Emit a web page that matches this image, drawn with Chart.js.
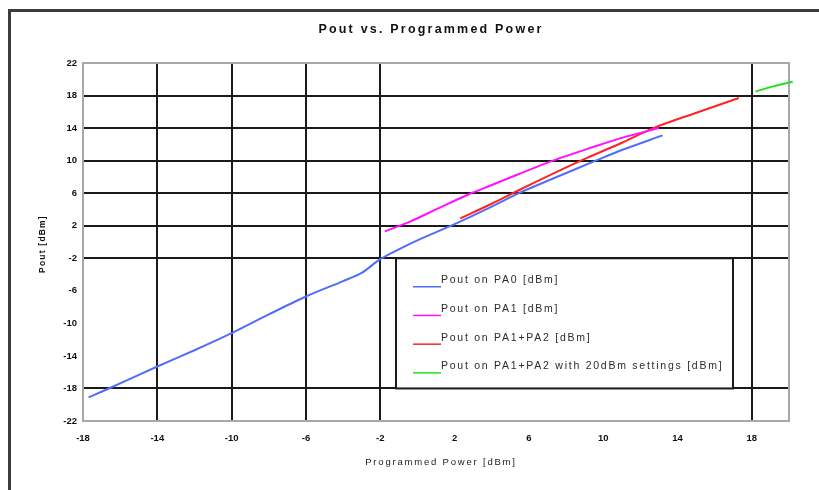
<!DOCTYPE html>
<html><head><meta charset="utf-8">
<script src="https://cdn.jsdelivr.net/npm/chart.js@4"></script>
<style>html,body{margin:0;padding:0;background:#fff;overflow:hidden}#wrap{width:819px;height:490px;position:relative}</style>
</head><body><div id="wrap"><canvas id="c" width="819" height="490"></canvas></div>
<script>
const chartTitle = 'Pout vs. Programmed Power';
const xAxisTitle = 'Programmed Power [dBm]';
const yAxisTitle = 'Pout [dBm]';
const xTicks = [-18, -14, -10, -6, -2, 2, 6, 10, 14, 18];
const yTicks = [-22, -18, -14, -10, -6, -2, 2, 6, 10, 14, 18, 22];
const xGridShown = [-14, -10, -6, -2, 18];
const yGridShown = [-18, -2, 2, 6, 10, 14, 18];
const seriesNames = ['Pout on PA0 [dBm]', 'Pout on PA1 [dBm]', 'Pout on PA1+PA2 [dBm]', 'Pout on PA1+PA2 with 20dBm settings [dBm]'];
const pa0X = [-17.7, -16.7, -14, -12, -10, -8, -6, -4, -3, -2, -1, 0, 2, 4, 5.4, 7.3, 9.5, 11, 13.2];
const pa0Y = [-19.1, -18.1, -15.3, -13.3, -11.2, -8.9, -6.7, -4.8, -3.8, -2.1, -0.9, 0.2, 2.2, 4.35, 5.95, 7.8, 9.9, 11.3, 13.1];
const pa1X = [-1.75, -0.4, 1, 2.8, 4, 5.4, 7.3, 9.5, 11, 13.0];
const pa1Y = [1.3, 2.5, 4.0, 5.9, 7.0, 8.3, 10.0, 11.7, 12.8, 14.0];
const pa12X = [2.3, 4, 5.4, 7.3, 9.1, 11, 12.7, 14.9, 17.3];
const pa12Y = [2.9, 4.7, 6.3, 8.4, 10.3, 12.2, 14.0, 15.8, 17.7];
const pa20X = [18.2, 19.1, 20.2];
const pa20Y = [18.5, 19.1, 19.7];
const seriesColors = ['#4f6ff8', '#ff10ff', '#ff2424', '#22e022'];

const FONT = "'Liberation Sans', Arial, sans-serif";
const pts = (xs, ys) => xs.map((x, i) => ({x: x, y: ys[i]}));
const seriesData = [pts(pa0X, pa0Y), pts(pa1X, pa1Y), pts(pa12X, pa12Y), pts(pa20X, pa20Y)];

const deco = {
  id: 'deco',
  beforeDraw(chart) {
    const c = chart.ctx;
    c.save(); c.fillStyle = '#fff'; c.fillRect(0, 0, chart.width, chart.height); c.restore();
  },
  beforeDatasetsDraw(chart) {
    const c = chart.ctx, a = chart.chartArea;
    c.save();
    c.strokeStyle = '#a8a8a8'; c.lineWidth = 2;
    c.beginPath();
    c.moveTo(a.left, a.top); c.lineTo(a.right, a.top); c.lineTo(a.right, a.bottom);
    c.stroke();
    c.restore();
  },
  afterDatasetsDraw(chart) {
    const c = chart.ctx, ys = chart.scales.y;
    const bx = 396, bxr = 733;
    const by = ys.getPixelForValue(-2), byb = ys.getPixelForValue(-18);
    c.save();
    c.fillStyle = '#fff';
    c.fillRect(bx, by, bxr - bx, byb - by);
    c.strokeStyle = '#1a1a1a'; c.lineWidth = 2;
    c.strokeRect(bx, by, bxr - bx, byb - by);
    c.font = '10.5px ' + FONT;
    if ('letterSpacing' in c) c.letterSpacing = '1.75px';
    c.textBaseline = 'middle'; c.textAlign = 'left';
    seriesNames.forEach((name, i) => {
      const ly = by + 28.5 + i * 28.7;
      c.strokeStyle = seriesColors[i]; c.lineWidth = 1.5;
      c.beginPath(); c.moveTo(413, ly); c.lineTo(441, ly); c.stroke();
      c.fillStyle = '#2a2a2a';
      c.fillText(name, 441, ly - 6.5);
    });
    c.restore();
  },
  afterDraw(chart) {
    const c = chart.ctx;
    c.save();
    c.strokeStyle = '#3c3c3c'; c.lineWidth = 3;
    c.strokeRect(9.5, 10.5, 900, 600);
    c.fillStyle = '#111';
    c.textAlign = 'center'; c.textBaseline = 'middle';
    c.font = 'bold 12.5px ' + FONT;
    if ('letterSpacing' in c) c.letterSpacing = '2.2px';
    c.fillText(chartTitle, 431, 30);
    c.font = '9.5px ' + FONT;
    if ('letterSpacing' in c) c.letterSpacing = '1.8px';
    c.fillStyle = '#1a1a1a';
    c.fillText(xAxisTitle, 441, 462);
    c.translate(43, 244);
    c.rotate(-Math.PI / 2);
    c.font = 'bold 8.5px ' + FONT;
    if ('letterSpacing' in c) c.letterSpacing = '1.2px';
    c.fillStyle = '#111';
    c.fillText(yAxisTitle, 0, 0);
    c.restore();
  }
};

new Chart(document.getElementById('c'), {
  type: 'scatter',
  data: {
    datasets: seriesNames.map((n, i) => ({
      label: n,
      data: seriesData[i],
      showLine: true,
      borderColor: seriesColors[i],
      backgroundColor: seriesColors[i],
      borderWidth: 2,
      pointRadius: 0,
      tension: 0.3,
      clip: false
    }))
  },
  options: {
    responsive: false,
    animation: false,
    devicePixelRatio: 1,
    layout: {padding: {top: 63, right: 30, left: 0, bottom: 0}},
    plugins: {legend: {display: false}, title: {display: false}, tooltip: {enabled: false}},
    scales: {
      x: {
        type: 'linear', min: -18, max: 20,
        afterBuildTicks: s => { s.ticks = xTicks.map(v => ({value: v})); },
        afterFit: s => { s.height = 69; },
        grid: {
          drawTicks: false, lineWidth: 2,
          color: ctx => (ctx.tick && xGridShown.includes(ctx.tick.value)) ? '#1a1a1a' : 'rgba(0,0,0,0)'
        },
        border: {color: '#a8a8a8', width: 2},
        ticks: {padding: 12, color: '#111', font: {family: FONT, size: 9.5, weight: 'bold'}, maxRotation: 0, autoSkip: false}
      },
      y: {
        type: 'linear', min: -22, max: 22,
        afterBuildTicks: s => { s.ticks = yTicks.map(v => ({value: v})); },
        afterFit: s => { s.width = 83; },
        grid: {
          drawTicks: false, lineWidth: 2,
          color: ctx => (ctx.tick && yGridShown.includes(ctx.tick.value)) ? '#1a1a1a' : 'rgba(0,0,0,0)'
        },
        border: {color: '#a8a8a8', width: 2},
        ticks: {padding: 6, color: '#111', font: {family: FONT, size: 9.5, weight: 'bold'}, autoSkip: false}
      }
    }
  },
  plugins: [deco]
});
</script></body></html>
